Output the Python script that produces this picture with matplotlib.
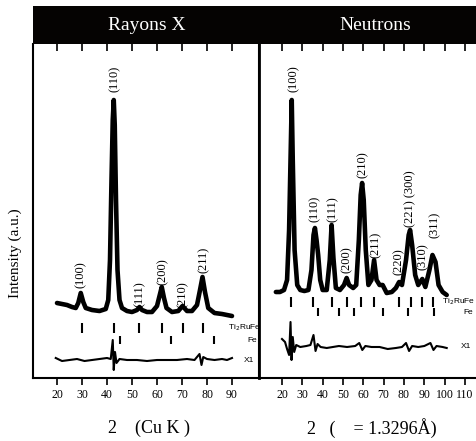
"""
Rayons X / Neutrons diffraction patterns of Ti2RuFe
"""

import matplotlib
matplotlib.use("agg")
import matplotlib.pyplot as plt
from matplotlib.patches import Rectangle

# X-ray pattern (2theta, intensity a.u.)
xr_tth = [20, 22, 24, 26, 27.5, 28.5, 29.5, 30.5, 31.5, 34, 37, 39.5, 40.5,
          41.2, 41.8, 42.3, 42.7, 43.1, 43.6, 44.2, 45, 46, 48, 50, 52, 53,
          54, 56, 58, 60, 61, 61.9, 62.8, 63.8, 66, 68.5, 70.2, 72, 74, 76,
          77.2, 78.2, 79.2, 80.5, 83, 86, 88, 90]
xr_int = [17, 16, 15, 13, 12, 17, 27, 18, 12, 10, 9, 11, 20,
          60, 140, 200, 220, 195, 120, 50, 20, 12, 9, 8, 10, 13,
          10, 8, 8, 14, 24, 33, 22, 12, 8, 9, 14, 9, 9, 15,
          30, 43, 28, 12, 7, 6, 5, 4]
xr_diff_tth = [19.5, 22, 25, 28, 31, 34, 37, 40, 41.5, 42.3, 42.7, 43.2, 43.8,
               45, 48, 52, 56, 60, 64, 68, 72, 75, 77, 77.8, 78.5, 80, 83,
               86, 88, 90]
xr_diff = [2, -1, 0, 1, -1, 0, 1, 2, 1, 20, -10, 8, -3,
           1, 0, 0, -1, 0, 0, 0, 1, 0, 6, -5, 3, 1, 0,
           1, 0, 2]
xr_bragg_main = [29.9, 42.7, 52.8, 61.9, 70.2, 78.3]
xr_bragg_fe = [45.2, 65.6, 82.8]
xr_hkl = ["(100)", "(110)", "(111)", "(200)", "(210)", "(211)"]
xr_hkl_tth = [29.5, 43.0, 53.2, 62.4, 70.4, 78.8]
xr_hkl_int = [32, 228, 13, 35, 12, 47]

# neutron pattern
nt_tth = [17, 19, 21, 22.5, 23.5, 24.3, 24.8, 25.3, 26.2, 27.5, 29, 31, 33,
          34.5, 35.5, 36.2, 37, 37.8, 38.8, 40, 42, 43.5, 44.4, 45.3, 46.5,
          48.5, 50.5, 51.8, 53, 55, 56.5, 57.8, 58.7, 59.4, 60.2, 61.2, 62.5,
          64, 65.3, 66.5, 68, 69.5, 71.5, 74, 76, 77.6, 79, 81, 82.3, 83, 84,
          85.5, 87, 89, 90.5, 92.5, 94, 95.5, 97, 99, 101]
nt_int = [8, 8, 10, 20, 70, 150, 200, 140, 50, 15, 10, 9, 10,
          30, 65, 72, 60, 45, 20, 10, 10, 40, 75, 42, 12,
          10, 15, 22, 15, 12, 15, 60, 105, 117, 100, 50, 15,
          20, 40, 20, 15, 15, 7, 8, 12, 18, 15, 40, 65, 70, 55,
          25, 15, 21, 13, 30, 45, 38, 15, 8, 5]
nt_diff_tth = [20, 21.5, 22.5, 23.5, 24.2, 24.7, 25.3, 26, 27, 29, 32, 34,
               35.5, 36.5, 37.5, 39, 42, 45, 48, 52, 56, 58, 59.5, 61, 64,
               68, 72, 76, 79, 81, 82.5, 84, 87, 90, 93, 94.5, 96, 99, 101]
nt_diff = [8, 5, -2, -8, 25, -13, 10, -5, 2, 0, 1, 2,
           12, -4, 3, 0, -1, 0, 1, 0, 1, 4, -3, 1, 0,
           0, -2, -1, 0, 4, -4, 1, 0, 1, 4, -3, 1, 0, -1]
nt_bragg_main = [24.3, 35.3, 44.4, 51.8, 58.9, 65.3, 77.6, 83.3, 88.9, 94.3]
nt_bragg_fe = [37.7, 48.0, 55.4, 69.5, 82.0, 94.8]
nt_hkl = ["(100)", "(110)", "(111)", "(200)", "(210)", "(211)", "(220)",
          "(221) (300)", "(310)", "(311)"]
nt_hkl_tth = [25.9, 36.2, 45.0, 51.8, 59.7, 66.2, 77.6, 83.0, 89.4, 95.2]
nt_hkl_int = [208, 78, 78, 27, 122, 42, 25, 73, 30, 62]

SERIF = "Liberation Serif"
SANS = "Liberation Sans"


def draw_panel(ax, tth, inten, dtth, diff, bmain, bfe, hkl, htth, hint,
               rows, xlim, ylim, ticks, phase_x, fe_x, x1_x):
    """ one diffraction panel """
    row1, row2, drow = rows
    ax.plot(tth, inten, color="black", lw=3.3, solid_capstyle="round")
    ax.plot(dtth, [d + drow for d in diff], color="black", lw=1.5)
    ax.plot(bmain, [row1] * len(bmain), "|", color="black", ms=7, mew=1.5)
    ax.plot(bfe, [row2] * len(bfe), "|", color="black", ms=6, mew=1.5)
    for lab, x, y in zip(hkl, htth, hint):
        ax.text(x, y, lab, rotation=90, ha="center", va="bottom",
                family=SERIF, fontsize=9)
    ax.text(phase_x, row1, "Ti$_2$RuFe", family=SANS, fontsize=6,
            ha="left", va="center", clip_on=True)
    ax.text(fe_x, row2, "Fe", family=SANS, fontsize=6, ha="left",
            va="center", clip_on=True)
    ax.text(x1_x, drow, "X1", family=SANS, fontsize=6, ha="left",
            va="center", clip_on=True)
    ax.set_xlim(*xlim)
    ax.set_ylim(*ylim)
    ax.set_yticks([])
    ax.set_xticks(ticks)
    ax.set_xticklabels([str(t) for t in ticks], family=SERIF, fontsize=8.5)
    # bottom ticks point out, top ticks point in
    ax.tick_params(axis="x", bottom=True, top=False, direction="out",
                   length=5, width=1.2, pad=3)
    sec = ax.secondary_xaxis("top")
    sec.set_xticks(ticks)
    sec.set_xticklabels([])
    sec.tick_params(axis="x", direction="in", length=5, width=1.2)
    sec.spines["top"].set_visible(False)
    for sp in ax.spines.values():
        sp.set_linewidth(1.5)
    ax.spines["top"].set_visible(False)


def main():
    """ main """
    fig = plt.figure(figsize=(4.77, 4.41), dpi=100)
    W, H = 477.0, 441.0
    bottom = (H - 378) / H
    height = 334 / H

    ax1 = fig.add_axes([33 / W, bottom, 226 / W, height])
    ax2 = fig.add_axes([259 / W, bottom, 218 / W, height])

    draw_panel(ax1, xr_tth, xr_int, xr_diff_tth, xr_diff, xr_bragg_main,
               xr_bragg_fe, xr_hkl, xr_hkl_tth, xr_hkl_int,
               (-8, -20, -40), (10.4, 100.8), (-58, 276),
               [20, 30, 40, 50, 60, 70, 80, 90], 88.4, 96.2, 94.8)
    draw_panel(ax2, nt_tth, nt_int, nt_diff_tth, nt_diff, nt_bragg_main,
               nt_bragg_fe, nt_hkl, nt_hkl_tth, nt_hkl_int,
               (-2, -12, -47), (8.7, 115.9), (-78, 256),
               [20, 30, 40, 50, 60, 70, 80, 90, 100, 110], 98.7, 109, 108)
    ax2.spines["right"].set_visible(False)
    ax2.spines["left"].set_linewidth(2)

    # black header band
    band = Rectangle((33 / W, (H - 44) / H), 1 - 33 / W, 38 / H,
                     transform=fig.transFigure, facecolor="#050302",
                     edgecolor="none", zorder=0)
    fig.patches.append(band)
    fig.text(147 / W, 1 - 26 / H, "Rayons X", color="white", family=SERIF,
             fontsize=14, ha="center", va="center")
    fig.text(375 / W, 1 - 26 / H, "Neutrons", color="white", family=SERIF,
             fontsize=14, ha="center", va="center")

    fig.text(15 / W, 1 - 253 / H, "Intensity (a.u.)", rotation=90,
             family=SERIF, fontsize=11, ha="center", va="center")
    fig.text(149 / W, 1 - 428 / H, "2    (Cu K )", family=SERIF,
             fontsize=13, ha="center", va="center")
    fig.text(372 / W, 1 - 428 / H, "2   (    = 1.3296Å)", family=SERIF,
             fontsize=13, ha="center", va="center")

    fig.savefig("out.png", dpi=100)


if __name__ == "__main__":
    main()
